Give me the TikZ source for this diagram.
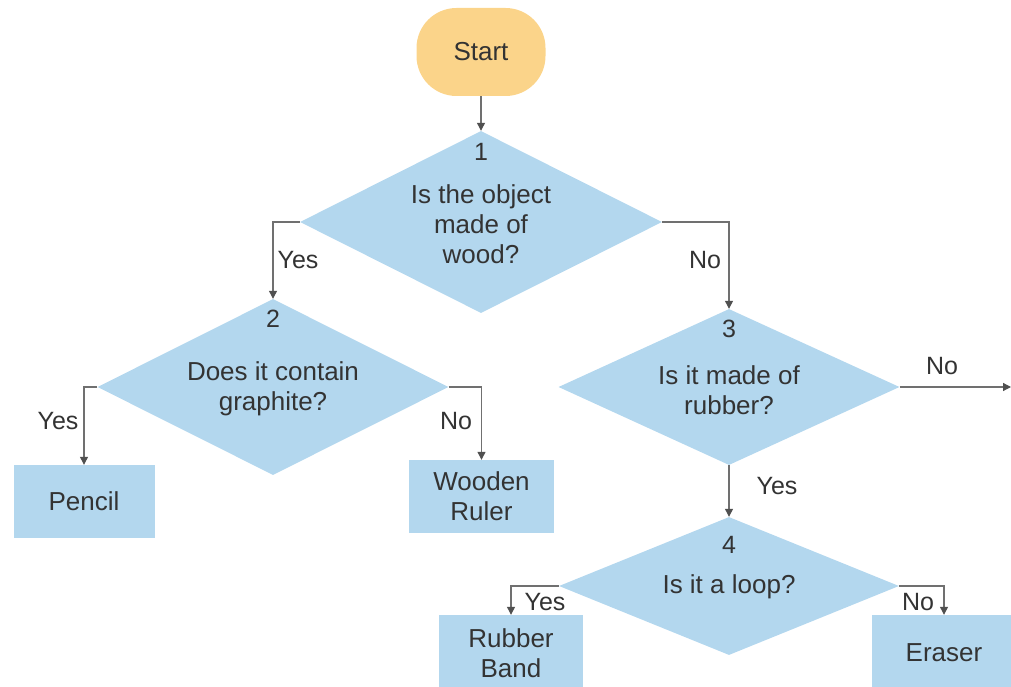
\documentclass[tikz,border=0pt]{standalone}
\usepackage{fontspec}
\setmainfont{Liberation Sans}
\usetikzlibrary{shapes.geometric,arrows.meta}
\definecolor{blu}{HTML}{B3D7EE}
\definecolor{yel}{HTML}{FBD48A}
\definecolor{txt}{HTML}{333333}
\definecolor{ln}{HTML}{707070}
\definecolor{tip}{HTML}{505050}
\begin{document}
\begin{tikzpicture}[x=1pt,y=-1pt,
  every node/.style={text=txt,font=\fontsize{26}{30}\selectfont},
  dia/.style={diamond,fill=blu,inner sep=0pt,draw=none},
  boxn/.style={rectangle,fill=blu,inner sep=0pt,draw=none,align=center},
  lbl/.style={inner sep=0pt,font=\fontsize{25}{30}\selectfont},
  conn/.style={draw=ln,line width=1.2pt,-{Triangle[width=8pt,length=8pt,color=tip]}}
]
\useasboundingbox (0,0) rectangle (1011,687);
% start
\node[fill=yel,rounded corners=40pt,minimum width=129pt,minimum height=88pt,inner sep=0pt] (start) at (481,52) {Start};
% diamonds
\node[dia,minimum width=362pt,minimum height=182pt] (d1) at (481,222) {};
\node[dia,minimum width=351pt,minimum height=176pt] (d2) at (273,387) {};
\node[dia,minimum width=341pt,minimum height=156pt] (d3) at (729,387) {};
\node[dia,minimum width=340pt,minimum height=138pt] (d4) at (729,586) {};
% diamond texts
\node[lbl] (n1) at (481,152) {1};
\node[align=center,inner sep=0pt] (t1) at (481,224) {Is the object\\made of\\wood?};
\node[lbl] (n2) at (273,319) {2};
\node[align=center,inner sep=0pt] (t2) at (273,389) {Does it contain\\graphite?};
\node[lbl] (n3) at (729,329) {3};
\node[align=center,inner sep=0pt] (t3) at (729,390) {Is it made of\\rubber?};
\node[lbl] (n4) at (729,545) {4};
\node[inner sep=0pt] (t4) at (729,587) {Is it a loop?};
% boxes
\node[boxn,minimum width=141pt,minimum height=73pt] (pencil) at (84,501.5) {Pencil};
\node[boxn,minimum width=145pt,minimum height=73pt] (ruler) at (481.5,496.5) {Wooden\\Ruler};
\node[boxn,minimum width=144pt,minimum height=76pt] (band) at (511,653) {Rubber\\Band};
\node[boxn,minimum width=144pt,minimum height=76pt] (eraser) at (944,653) {Eraser};
\coordinate (out) at (1011,387);
% connectors
\draw[conn] (start.south) -- (d1.north);
\draw[conn] (d1.west) -| (d2.north);
\draw[conn] (d1.east) -| (d3.north);
\draw[conn] (d2.west) -| (pencil.north);
\draw[conn] (d2.east) -| (ruler.north);
\draw[conn] (d3.east) -- (out);
\draw[conn] (d3.south) -- (d4.north);
\draw[conn] (d4.west) -| (band.north);
\draw[conn] (d4.east) -| (eraser.north);
% labels
\node[lbl] (y1) at (298,260) {Yes};
\node[lbl] (no1) at (705,260) {No};
\node[lbl] (y2) at (58,421) {Yes};
\node[lbl] (no2) at (456,421) {No};
\node[lbl] (no3) at (942,366) {No};
\node[lbl] (y3) at (777,486) {Yes};
\node[lbl] (y4) at (545,602) {Yes};
\node[lbl] (no4) at (918,602) {No};
\end{tikzpicture}
\end{document}
